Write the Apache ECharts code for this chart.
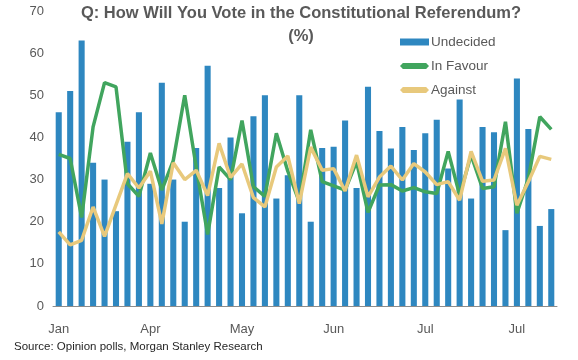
<!DOCTYPE html>
<html>
<head>
<meta charset="utf-8">
<script src="https://cdn.jsdelivr.net/npm/echarts@6/dist/echarts.min.js"></script>
<style>
  html, body { margin: 0; padding: 0; background: #ffffff; }
  #chart { width: 578px; height: 360px; }
</style>
</head>
<body>
<div id="chart"></div>
<script>
// Poll categories (month of each poll); every 8th label is shown
const categories = [
  "Jan","Jan","Jan","Feb","Feb","Feb","Mar","Mar",
  "Apr","Apr","Apr","Apr","Apr","Apr","Apr","Apr",
  "May","May","May","May","May","May","May","May",
  "Jun","Jun","Jun","Jun","Jun","Jun","Jun","Jun",
  "Jul","Jul","Jul","Jul","Jul","Jul","Jul","Jul",
  "Jul","Jul","Jul","Jul"
];

const undecided = [
  46, 51, 63, 34, 30, 22.5, 39, 46, 29, 53,
  30, 20, 37.5, 57, 28, 40, 22, 45, 50, 25.5,
  31, 50, 20, 37.5, 37.8, 44, 28, 52, 41.5, 37.4,
  42.5, 37, 41, 44.2, 32.6, 49, 25.5, 42.5, 41.2, 18,
  54, 42, 19, 23
];

const inFavour = [
  36, 35, 21, 42.5, 53, 52, 29, 26, 36.3, 27.5,
  34.5, 50, 33, 17, 33, 30, 44, 28.3, 26, 41,
  32, 24.7, 41.8, 29.5, 28.5, 27.5, 34.2, 22.2, 28.7, 28.8,
  27.3, 28.1, 27.1, 26.7, 36.7, 26.3, 35.8, 27.9, 28.3, 43.7,
  22, 30.3, 44.9, 41.9
];

const against = [
  17.6, 14.5, 15.6, 23.5, 16.5, 24, 31.4, 28, 32, 19.5,
  34, 30, 32.2, 26.2, 38.6, 30.5, 33.7, 25.7, 23.5, 33,
  35.6, 24.3, 37.7, 32.2, 32.6, 27.3, 35.8, 25.9, 30.6, 33.2,
  29.9, 33.8, 31.8, 28.8, 29.5, 25.1, 36.7, 29.6, 29.9, 37.4,
  23.9, 29.5, 35.5, 34.8
];

const FONT = '"Liberation Sans", Arial, sans-serif';
const GREY = '#595959';
const lineIcon = 'path://M0,4 L3,1 L27,1 L30,4 L27,7 L3,7 Z';

const chart = echarts.init(document.getElementById('chart'), null, { renderer: 'canvas' });
chart.setOption({
  animation: false,
  backgroundColor: '#ffffff',
  title: {
    text: 'Q: How Will You Vote in the Constitutional Referendum?\n(%)',
    left: 301,
    textAlign: 'center',
    top: 2,
    padding: 0,
    textStyle: { fontFamily: FONT, fontSize: 16.5, fontWeight: 'bold', color: GREY, lineHeight: 23 }
  },
  legend: {
    orient: 'vertical',
    left: 395,
    top: 30,
    itemWidth: 29,
    itemHeight: 7,
    itemGap: 10,
    textStyle: { fontFamily: FONT, fontSize: 13.5, color: GREY, padding: [0, 0, 0, -3] },
    data: [
      { name: 'Undecided', icon: 'rect' },
      { name: 'In Favour', icon: lineIcon },
      { name: 'Against', icon: lineIcon }
    ]
  },
  grid: { left: 53, right: 21, top: 11, bottom: 54, containLabel: false },
  xAxis: {
    type: 'category',
    data: categories,
    boundaryGap: true,
    axisLine: { lineStyle: { color: '#8c8c8c', width: 1 } },
    axisTick: { show: false },
    axisLabel: { interval: 7, fontFamily: FONT, fontSize: 13, color: GREY, margin: 17 }
  },
  yAxis: {
    type: 'value',
    min: 0, max: 70, interval: 10,
    axisLine: { show: false },
    axisTick: { show: false },
    splitLine: { show: false },
    axisLabel: { fontFamily: FONT, fontSize: 13, color: GREY, margin: 9 }
  },
  series: [
    {
      name: 'Undecided', type: 'bar', data: undecided,
      barWidth: '53%',
      itemStyle: { color: '#2E87C0' }
    },
    {
      name: 'In Favour', type: 'line', data: inFavour,
      showSymbol: false, symbol: 'none',
      lineStyle: { color: '#41A55E', width: 3.5 },
      itemStyle: { color: '#41A55E' }
    },
    {
      name: 'Against', type: 'line', data: against,
      showSymbol: false, symbol: 'none',
      lineStyle: { color: '#E8C97C', width: 3.5 },
      itemStyle: { color: '#E8C97C' }
    }
  ],
  graphic: [
    {
      type: 'text', left: 14, top: 341,
      style: { text: 'Source: Opinion polls, Morgan Stanley Research', font: '11.5px ' + FONT, fill: '#262626' }
    }
  ]
});
</script>
</body>
</html>
